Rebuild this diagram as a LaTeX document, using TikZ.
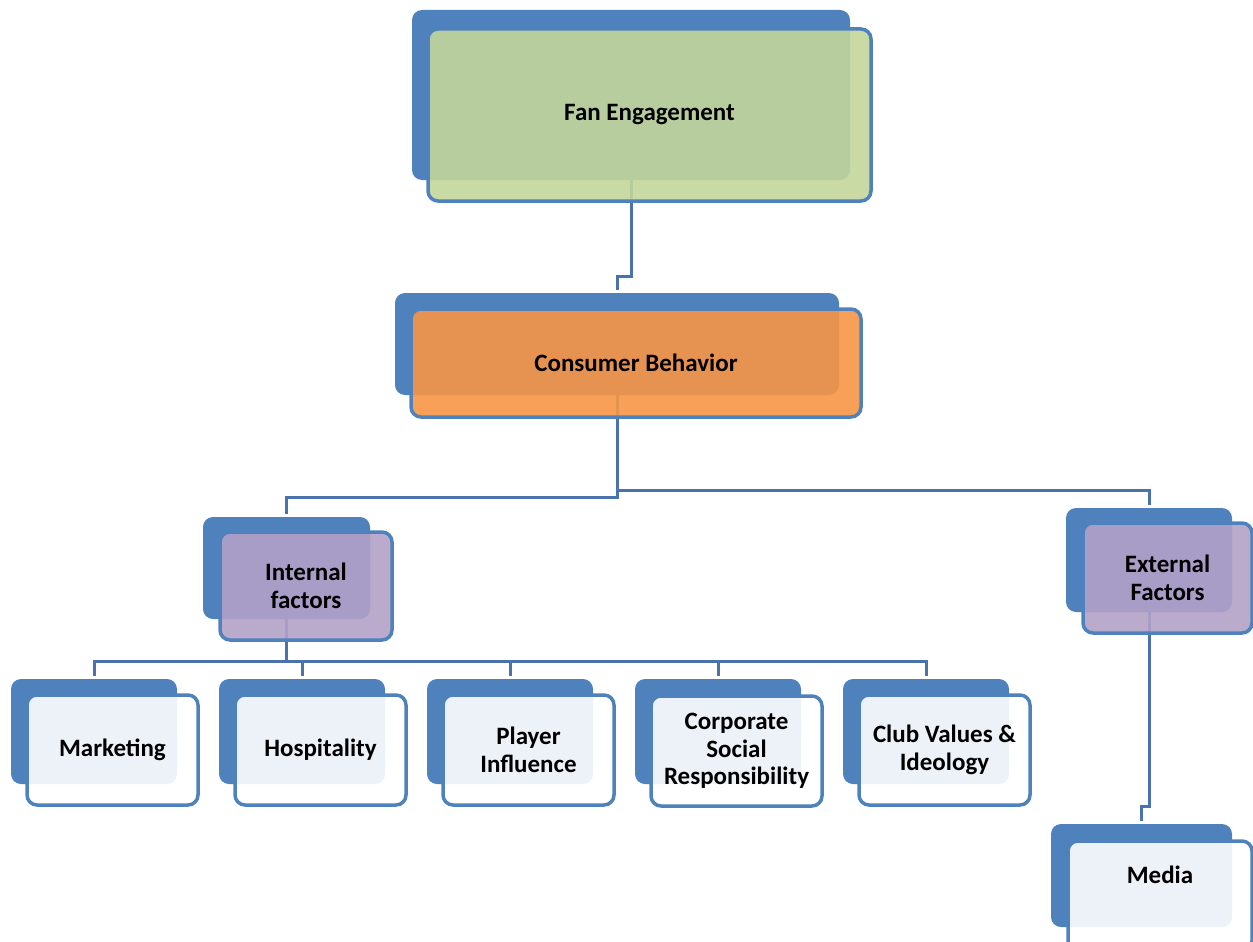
\documentclass[tikz,border=0pt]{standalone}
\usepackage{fontspec}
\setmainfont{Carlito}
\definecolor{bk}{HTML}{4F81BD}
\definecolor{ln}{HTML}{4A72AC}
\definecolor{gr}{HTML}{C3D69B}
\definecolor{orng}{HTML}{F79646}
\definecolor{pur}{HTML}{B2A1C7}
\pgfdeclarelayer{lines}\pgfdeclarelayer{backs}
\pgfsetlayers{lines,backs,main}
\begin{document}
\begin{tikzpicture}[x=1pt,y=-1pt,
 backbox/.style={fill=bk, draw=none, rounded corners=10pt, inner sep=0pt},
 frontbox/.style={draw=bk, line width=3.5pt, fill opacity=0.9, text opacity=1, rounded corners=10pt, inner sep=0pt, align=center, font=\fontsize{25}{27.5}\selectfont\bfseries},
 lbl/.style={inner sep=0pt, align=center, font=\fontsize{25}{27.5}\selectfont\bfseries},
 conn/.style={draw=ln, line width=3pt, shorten >=3pt}]
\useasboundingbox (0,0) rectangle (1253,942);
% back boxes
\begin{pgfonlayer}{backs}
\node[backbox, minimum width=438pt, minimum height=170pt] (fanb) at (631,95) {};
\node[backbox, minimum width=444pt, minimum height=102pt] (cbb) at (617,344) {};
\node[backbox, minimum width=167pt, minimum height=102pt] (intb) at (286.5,568) {};
\node[backbox, minimum width=166pt, minimum height=104pt] (extb) at (1149,560) {};
\node[backbox, minimum width=166pt, minimum height=105pt] (l1b) at (94,731.5) {};
\node[backbox, minimum width=166pt, minimum height=105pt] (l2b) at (302,731.5) {};
\node[backbox, minimum width=166pt, minimum height=105pt] (l3b) at (510,731.5) {};
\node[backbox, minimum width=166pt, minimum height=105pt] (l4b) at (718,731.5) {};
\node[backbox, minimum width=166pt, minimum height=105pt] (l5b) at (926,731.5) {};
\node[backbox, minimum width=181pt, minimum height=103pt] (mediab) at (1141.5,875.5) {};
\end{pgfonlayer}
% front boxes
\node[frontbox, fill=gr, minimum width=443pt, minimum height=172pt] (fan) at (649.5,115) {Fan Engagement};
\node[frontbox, fill=orng, minimum width=450pt, minimum height=108pt] (cb) at (636,363) {Consumer Behavior};
\node[frontbox, fill=pur, minimum width=172pt, minimum height=108pt] (int) at (306,586) {Internal\\factors};
\node[frontbox, fill=pur, minimum width=169pt, minimum height=110pt] (ext) at (1167.5,578) {External\\Factors};
\node[frontbox, fill=white, minimum width=171pt, minimum height=110pt] (l1) at (112.5,750) {Marketing};
\node[frontbox, fill=white, minimum width=171pt, minimum height=110pt] (l2) at (320.5,750) {Hospitality};
\node[frontbox, fill=white, minimum width=171pt, minimum height=110pt] (l3) at (528.5,750) {Player\\Influence};
\node[frontbox, fill=white, minimum width=171pt, minimum height=110pt] (l4) at (736.5,751) {Corporate\\Social\\Responsibility};
\node[frontbox, fill=white, minimum width=171pt, minimum height=110pt] (l5) at (944.5,750) {Club Values \&\\Ideology};
\node[frontbox, fill=white, minimum width=184pt, minimum height=110pt] (media) at (1160,896) {};
\node[lbl] (mediatext) at (1160,875) {Media};
% connectors
\begin{pgfonlayer}{lines}
\draw[conn] (fanb.south) -- ++(0,96) -| (cbb.north);
\draw[conn] (cbb.south) -- ++(0,102) -| (intb.north);
\draw[conn] (cbb.south) -- ++(0,95) -| (extb.north);
\draw[conn] (intb.south) -- ++(0,42) -| (l1b.north);
\draw[conn] (intb.south) -- ++(0,42) -| (l2b.north);
\draw[conn] (intb.south) -- ++(0,42) -| (l3b.north);
\draw[conn] (intb.south) -- ++(0,42) -| (l4b.north);
\draw[conn] (intb.south) -- ++(0,42) -| (l5b.north);
\draw[conn] (extb.south) -- ++(0,194) -| (mediab.north);
\end{pgfonlayer}
\end{tikzpicture}
\end{document}
